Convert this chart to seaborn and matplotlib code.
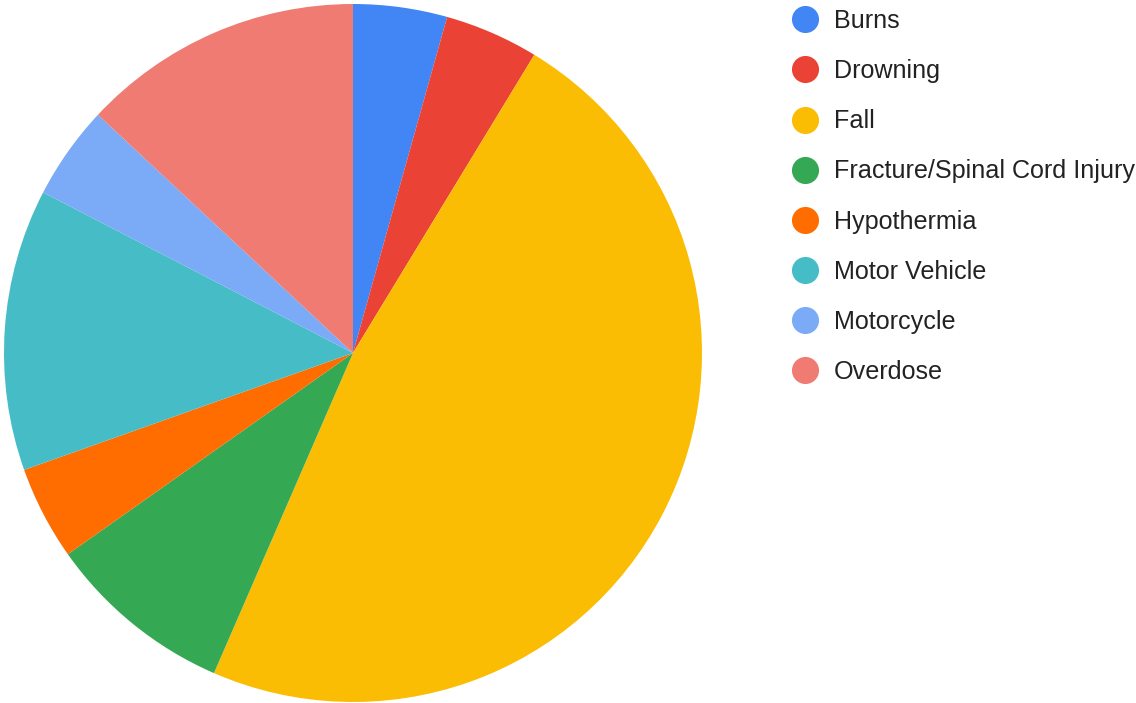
import matplotlib
matplotlib.use("Agg")
import matplotlib.pyplot as plt
from matplotlib.lines import Line2D
import seaborn as sns

# data: injury type counts
categories = ["Burns", "Drowning", "Fall", "Fracture/Spinal Cord Injury",
              "Hypothermia", "Motor Vehicle", "Motorcycle", "Overdose"]
counts = [1, 1, 11, 2, 1, 3, 1, 3]
colors = ["#4285F4", "#EA4335", "#FBBC04", "#34A853",
          "#FF6D01", "#46BDC6", "#7BAAF7", "#F07B72"]

sns.set_theme(style="white")
plt.rcParams['font.family'] = ['Liberation Sans', 'DejaVu Sans']
palette = sns.color_palette(colors)

fig = plt.figure(figsize=(11.36, 7.03), dpi=100)
ax = fig.add_axes([4 / 1136, 1 / 703, 698 / 1136, 698 / 703])
ax.pie(counts, colors=palette, startangle=90, counterclock=False,
       radius=1.0, wedgeprops=dict(linewidth=0))
ax.set_xlim(-1, 1)
ax.set_ylim(-1, 1)
ax.set_aspect("equal")
ax.axis("off")

handles = [Line2D([0], [0], marker="o", linestyle="", markersize=19.5,
                  markerfacecolor=c, markeredgewidth=0) for c in palette]
fig.legend(handles, categories, loc="upper left",
           bbox_to_anchor=(785 / 1136, 1 - 4 / 703), frameon=False,
           fontsize=18.1, labelspacing=1.04, handlelength=1.2,
           handletextpad=0.55, borderaxespad=0, borderpad=0.2,
           labelcolor="#222222")

fig.savefig("out.png", dpi=100)
